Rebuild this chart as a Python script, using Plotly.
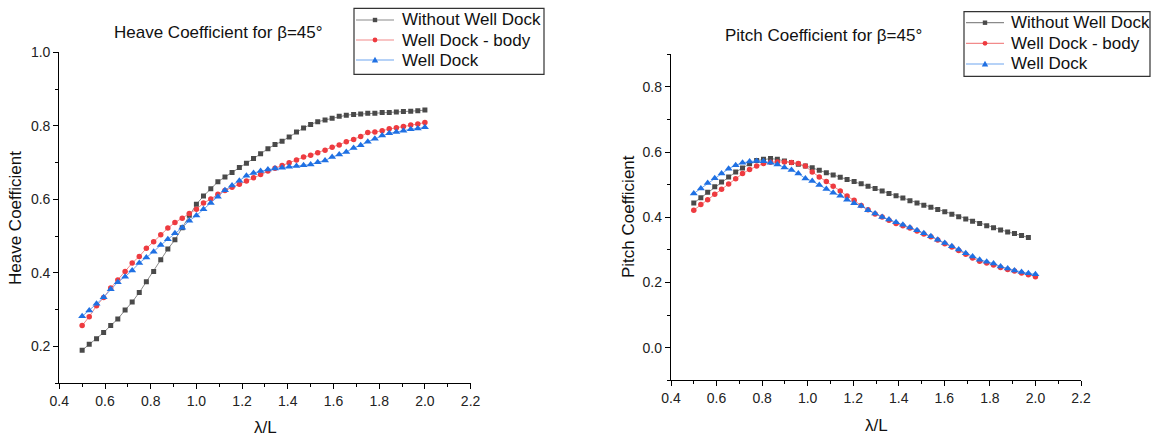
import plotly.graph_objects as go

# ---- Heave coefficient data (beta = 45 deg) ----
heave_x = [0.5, 0.531, 0.563, 0.594, 0.625, 0.656, 0.688, 0.719, 0.75, 0.781,
           0.813, 0.844, 0.875, 0.906, 0.938, 0.969, 1.0, 1.031, 1.063, 1.094,
           1.125, 1.156, 1.188, 1.219, 1.25, 1.281, 1.313, 1.344, 1.375, 1.406,
           1.438, 1.469, 1.5, 1.531, 1.563, 1.594, 1.625, 1.656, 1.688, 1.719,
           1.75, 1.781, 1.813, 1.844, 1.875, 1.906, 1.938, 1.969, 2.0]

heave_without = [0.190, 0.206, 0.221, 0.238, 0.257, 0.275, 0.299, 0.321, 0.347, 0.376,
                 0.404, 0.436, 0.465, 0.490, 0.523, 0.557, 0.587, 0.609, 0.629, 0.648,
                 0.661, 0.673, 0.687, 0.698, 0.711, 0.724, 0.738, 0.749, 0.758, 0.770,
                 0.783, 0.794, 0.804, 0.811, 0.816, 0.821, 0.826, 0.829, 0.831, 0.832,
                 0.834, 0.834, 0.836, 0.836, 0.838, 0.839, 0.840, 0.841, 0.843]

heave_body = [0.257, 0.281, 0.311, 0.333, 0.359, 0.381, 0.404, 0.427, 0.445, 0.467,
              0.485, 0.504, 0.522, 0.537, 0.549, 0.562, 0.573, 0.590, 0.601, 0.614,
              0.624, 0.633, 0.641, 0.650, 0.659, 0.668, 0.677, 0.685, 0.692, 0.700,
              0.707, 0.715, 0.720, 0.727, 0.734, 0.742, 0.748, 0.757, 0.763, 0.771,
              0.782, 0.783, 0.787, 0.792, 0.795, 0.798, 0.802, 0.805, 0.809]

heave_dock = [0.282, 0.298, 0.316, 0.334, 0.356, 0.375, 0.390, 0.407, 0.427, 0.442,
              0.458, 0.476, 0.492, 0.508, 0.523, 0.542, 0.556, 0.573, 0.590, 0.607,
              0.625, 0.638, 0.651, 0.664, 0.672, 0.677, 0.681, 0.684, 0.686, 0.689,
              0.691, 0.693, 0.695, 0.701, 0.706, 0.715, 0.722, 0.729, 0.740, 0.747,
              0.757, 0.765, 0.774, 0.780, 0.783, 0.787, 0.791, 0.793, 0.796]

# ---- Pitch coefficient data (beta = 45 deg) ----
pitch_x = [0.5, 0.531, 0.561, 0.592, 0.622, 0.653, 0.684, 0.714, 0.745, 0.776,
           0.806, 0.837, 0.867, 0.898, 0.929, 0.959, 0.990, 1.020, 1.051, 1.082,
           1.112, 1.143, 1.173, 1.204, 1.235, 1.265, 1.296, 1.327, 1.357, 1.388,
           1.418, 1.449, 1.480, 1.510, 1.541, 1.571, 1.602, 1.633, 1.663, 1.694,
           1.724, 1.755, 1.786, 1.816, 1.847, 1.878, 1.908, 1.939, 1.969, 2.0]

pitch_without = [0.444, 0.460, 0.477, 0.494, 0.508, 0.524, 0.539, 0.551, 0.564, 0.574,
                 0.578, 0.580, 0.578, 0.573, 0.568, 0.563, 0.557, 0.552, 0.544, 0.537,
                 0.530, 0.523, 0.516, 0.510, 0.503, 0.495, 0.488, 0.481, 0.473, 0.466,
                 0.459, 0.451, 0.444, 0.437, 0.431, 0.424, 0.417, 0.409, 0.402, 0.395,
                 0.388, 0.381, 0.374, 0.368, 0.361, 0.355, 0.350, 0.344, 0.338]

pitch_body = [0.422, 0.439, 0.454, 0.471, 0.486, 0.502, 0.518, 0.534, 0.547, 0.557,
              0.565, 0.569, 0.570, 0.570, 0.568, 0.565, 0.557, 0.539, 0.524, 0.510,
              0.495, 0.481, 0.465, 0.452, 0.436, 0.423, 0.410, 0.401, 0.391, 0.381,
              0.374, 0.367, 0.358, 0.349, 0.340, 0.330, 0.319, 0.309, 0.298, 0.287,
              0.275, 0.265, 0.260, 0.254, 0.246, 0.240, 0.235, 0.229, 0.224, 0.218]

pitch_dock = [0.473, 0.488, 0.505, 0.520, 0.534, 0.549, 0.560, 0.567, 0.571, 0.573,
              0.572, 0.567, 0.562, 0.553, 0.545, 0.534, 0.519, 0.511, 0.499, 0.487,
              0.475, 0.466, 0.454, 0.443, 0.435, 0.422, 0.412, 0.401, 0.393, 0.385,
              0.377, 0.369, 0.360, 0.351, 0.342, 0.331, 0.321, 0.311, 0.301, 0.290,
              0.280, 0.270, 0.264, 0.258, 0.249, 0.243, 0.237, 0.232, 0.228, 0.225]

series_names = ["Without Well Dock", "Well Dock - body", "Well Dock"]
x_ticks = [0.4, 0.6, 0.8, 1.0, 1.2, 1.4, 1.6, 1.8, 2.0, 2.2]

FONT = "Liberation Sans, Arial, sans-serif"
W, H = 1151, 437

# line colour, marker colour, marker symbol, marker size
styles = [
    ("#8a8a8a", "#4a4a4a", "square", 5),
    ("#f28a8a", "#ee3b40", "circle", 5.5),
    ("#6fa6ef", "#1f70e3", "triangle-up", 7),
]


def px_x(p):
    return p / W


def px_y(p):
    return 1 - p / H


fig = go.Figure()

heave_sets = [(heave_x, heave_without), (heave_x, heave_body), (heave_x, heave_dock)]
pitch_sets = [(pitch_x[:len(pitch_without)], pitch_without),
              (pitch_x, pitch_body), (pitch_x, pitch_dock)]

for (xa, ya), sets in [(("x", "y"), heave_sets), (("x2", "y2"), pitch_sets)]:
    for name, (xs, ys), (lc, mc, sym, ms) in zip(series_names, sets, styles):
        fig.add_trace(go.Scatter(
            x=xs, y=ys, name=name, mode="lines+markers", xaxis=xa, yaxis=ya,
            showlegend=False,
            line=dict(color=lc, width=1),
            marker=dict(symbol=sym, size=ms, color=mc),
        ))

axis_common = dict(
    showline=True, linecolor="#000", linewidth=1.3, mirror=False,
    showgrid=False, zeroline=False, ticks="outside", ticklen=5, tickwidth=1.2,
    tickcolor="#000", tickfont=dict(family=FONT, size=14, color="#222"),
    automargin=False,
    minor=dict(ticks="outside", ticklen=3, tickwidth=1, tickcolor="#000",
               showgrid=False, dtick=0.1),
)

fig.update_layout(
    width=W, height=H,
    margin=dict(l=0, r=0, t=0, b=0),
    paper_bgcolor="white", plot_bgcolor="white",
    font=dict(family=FONT, color="#111"),
    showlegend=False,
    xaxis=dict(domain=[px_x(59.3), px_x(470.6)], range=[0.4, 2.2], tickvals=x_ticks,
               ticktext=[f"{v:.1f}" for v in x_ticks], anchor="y", **axis_common),
    yaxis=dict(domain=[px_y(383.3), px_y(52.3)], range=[0.1, 1.0], dtick=0.2, tick0=0.2,
               tickformat=".1f", anchor="x", **axis_common),
    xaxis2=dict(domain=[px_x(671), px_x(1081)], range=[0.4, 2.2], tickvals=x_ticks,
                ticktext=[f"{v:.1f}" for v in x_ticks], anchor="y2", **axis_common),
    yaxis2=dict(domain=[px_y(380.3), px_y(54.3)], range=[-0.1, 0.9], dtick=0.2, tick0=0.0,
                tickformat=".1f", anchor="x2", **axis_common),
)


def add_text(text, x, y, size, angle=0, xanchor="center"):
    fig.add_annotation(text=text, x=px_x(x), y=px_y(y), xref="paper", yref="paper",
                       xanchor=xanchor, yanchor="middle", showarrow=False,
                       textangle=angle,
                       font=dict(family=FONT, size=size, color="#111"))


# Titles and axis labels
add_text("Heave Coefficient for β=45°", 218, 33, 17)
add_text("Pitch Coefficient for β=45°", 823, 36, 17)
add_text("λ/L", 265, 427, 17)
add_text("λ/L", 876, 425, 17)
add_text("Heave Coefficient", 16, 218, 17, angle=-90)
add_text("Pitch Coefficient", 628, 217, 17, angle=-90)


# Compact boxed legend (Origin style), drawn in pixel units of the page
def add_legend(left, top, right, bottom, rows, key_x0, key_x1, text_x):
    fig.add_shape(type="rect", xref="paper", yref="paper",
                  x0=px_x(left), x1=px_x(right), y0=px_y(bottom), y1=px_y(top),
                  line=dict(color="#333", width=1.2), fillcolor="white", layer="above")
    cx = (key_x0 + key_x1) / 2
    for name, ry, (lc, mc, sym, ms) in zip(series_names, rows, styles):
        fig.add_shape(type="line", xref="paper", yref="paper",
                      x0=px_x(key_x0), x1=px_x(key_x1), y0=px_y(ry), y1=px_y(ry),
                      line=dict(color=lc, width=1.2), layer="above")
        if sym == "square":
            r = 2.2
            fig.add_shape(type="rect", xref="paper", yref="paper",
                          x0=px_x(cx - r), x1=px_x(cx + r), y0=px_y(ry + r), y1=px_y(ry - r),
                          line=dict(width=0), fillcolor=mc, layer="above")
        elif sym == "circle":
            r = 2.4
            fig.add_shape(type="circle", xref="paper", yref="paper",
                          x0=px_x(cx - r), x1=px_x(cx + r), y0=px_y(ry + r), y1=px_y(ry - r),
                          line=dict(width=0), fillcolor=mc, layer="above")
        else:
            s = 3.2
            path = (f"M {px_x(cx)} {px_y(ry - s)} "
                    f"L {px_x(cx - s)} {px_y(ry + s * 0.75)} "
                    f"L {px_x(cx + s)} {px_y(ry + s * 0.75)} Z")
            fig.add_shape(type="path", xref="paper", yref="paper", path=path,
                          line=dict(width=0), fillcolor=mc, layer="above")
        add_text(name, text_x, ry, 17, xanchor="left")


add_legend(354, 8.3, 544, 74.3, [20, 40, 60], 356, 394, 400)
add_legend(964, 11.7, 1150, 76.3, [22.7, 43.3, 64], 966, 1004, 1009)

fig.write_html("out.html")
